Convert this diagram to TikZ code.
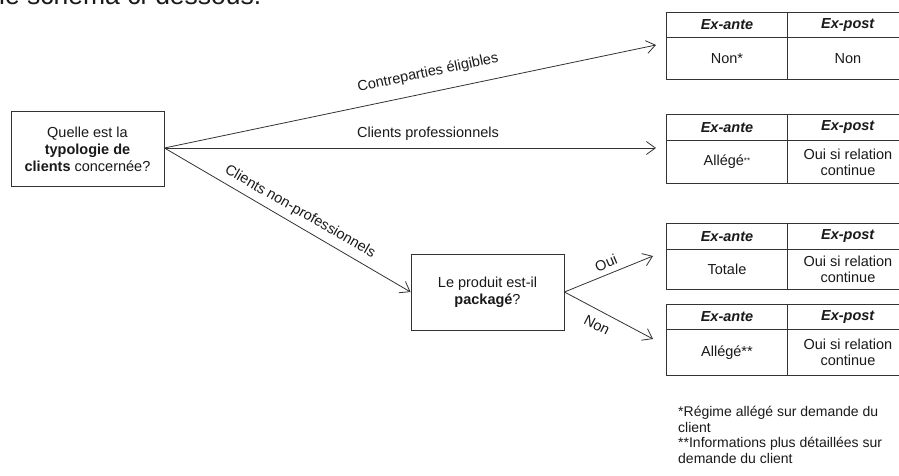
\documentclass[tikz,border=0pt]{standalone}
\usepackage{fontspec}
\setmainfont{Liberation Sans}
\usetikzlibrary{arrows.meta}
\definecolor{ln}{HTML}{333333}
\definecolor{tx}{HTML}{1A1A1A}
\tikzset{
  box/.style={draw=ln, line width=0.9pt, inner sep=0pt, align=center, text=tx,
    font=\fontsize{14.5}{17}\selectfont},
  cell/.style={draw=ln, line width=0.9pt, inner sep=0pt, align=center, text=tx,
    font=\fontsize{14.5}{16}\selectfont},
  conn/.style={draw=ln, line width=0.8pt, -{Straight Barb[length=9pt,width=13pt,line width=0.8pt]}},
  lbl/.style={text=tx, inner sep=1pt, font=\fontsize{14.5}{16}\selectfont},
}
% table macro: name, top y, header bottom y, bottom y, ante, post
\newcommand{\mytable}[6]{%
  \node[cell, minimum width=121pt, minimum height=#3-#2, anchor=north west] (#1ha) at (666,#2) {\textbf{\textit{Ex-ante}}};
  \node[cell, minimum width=121pt, minimum height=#3-#2, anchor=north west] (#1hb) at (787,#2) {\textbf{\textit{Ex-post}}};
  \node[cell, minimum width=121pt, minimum height=#4-#3, anchor=north west] (#1ba) at (666,#3) {#5};
  \node[cell, minimum width=121pt, minimum height=#4-#3, anchor=north west] (#1bb) at (787,#3) {#6};
}
\begin{document}
\begin{tikzpicture}[x=1pt, y=-1pt]
\useasboundingbox (0,0) rectangle (899,476);
\clip (0,0) rectangle (899,476);
\fill[white] (0,0) rectangle (899,476);

\node[anchor=base west, text=tx, inner sep=0pt, font=\fontsize{26.5}{30}\selectfont] (top) at (-1,5) {le schéma ci-dessous.};

\node[box, minimum width=153pt, minimum height=75pt] (q) at (87.5,149)
  {Quelle est la\\\textbf{typologie de}\\\textbf{clients} concernée?};
\node[box, minimum width=153pt, minimum height=76pt] (p) at (487.5,292)
  {Le produit est-il\\\textbf{packagé}?};

\mytable{t1}{12}{37}{79}{Non*}{Non}
\mytable{t2}{114}{140}{183}{Allégé\raisebox{0.3ex}{\fontsize{8}{8}\selectfont**}}{Oui si relation\\continue}
\mytable{t3}{223}{249}{289}{Totale}{Oui si relation\\continue}
\mytable{t4}{304}{329}{375}{Allégé**}{Oui si relation\\continue}

\coordinate (a1) at (656,45);
\coordinate (a2) at (656,148);
\coordinate (a3) at (653,256);
\coordinate (a4) at (653,339);

\draw[conn] (q.east) ++(0,-1) coordinate (qs) -- (a1);
\draw[conn] (qs) -- (a2);
\draw[conn] (qs) -- (p.west);
\draw[conn] (p.east) -- (a3);
\draw[conn] (p.east) -- (a4);

\node[lbl, rotate=11.9] (l1) at (428,73) {Contreparties éligibles};
\node[lbl] (l2) at (428,134) {Clients professionnels};
\node[lbl, rotate=-30] (l3) at (300,212) {Clients non-professionnels};
\node[lbl, rotate=22.8] (l4) at (606,263) {Oui};
\node[lbl, rotate=-27.3] (l5) at (597,325) {Non};

\node[anchor=north west, align=left, text=tx, inner sep=0pt,
  font=\fontsize{14}{15.5}\selectfont] (fn) at (678,406)
  {*Régime allégé sur demande du\\client\\**Informations plus détaillées sur\\demande du client};
\end{tikzpicture}
\end{document}
